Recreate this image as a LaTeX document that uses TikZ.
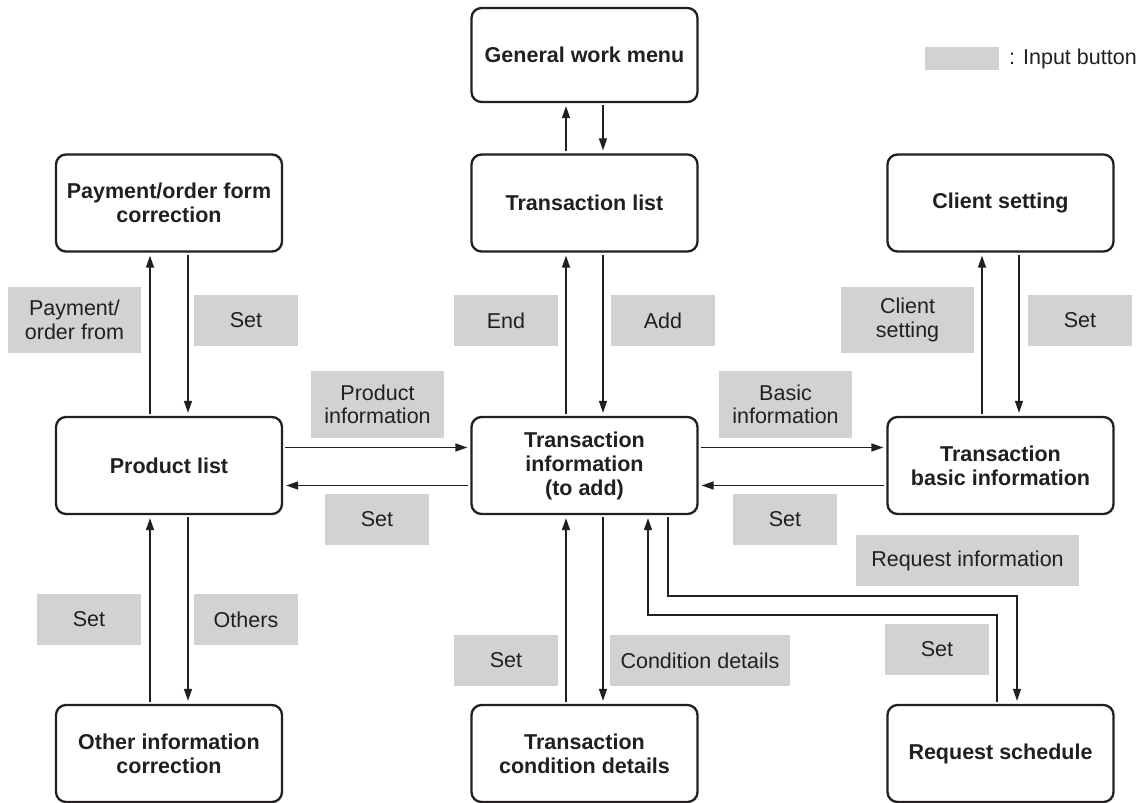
\documentclass[tikz,border=0pt]{standalone}
\usepackage{fontspec}
\setmainfont{Liberation Sans}
\usepackage{xcolor}
\usetikzlibrary{arrows.meta}
\definecolor{ink}{HTML}{231F20}
\definecolor{btngray}{HTML}{D1D2D4}
\tikzset{
  screen/.style={draw=ink, line width=2.3pt, rounded corners=10pt, fill=white,
    minimum width=226pt, minimum height=97pt, align=center, text=ink,
    font=\fontsize{21.5}{24}\selectfont\bfseries},
  btn/.style={fill=btngray, inner sep=0pt, align=center, text=ink,
    font=\fontsize{21.5}{23.5}\selectfont},
  arr/.style={draw=ink, line width=1.4pt, -{Triangle[length=12pt,width=8pt]},
    shorten >=3pt, shorten <=2pt},
}
\begin{document}
\begin{tikzpicture}[x=1pt,y=-1pt]
  \useasboundingbox (0,0) rectangle (1144,803);
  % screens
  \node[screen, minimum height=94pt] (gwm) at (584.5,55) {General work menu};
  \node[screen] (tlist)  at (584.5,203)  {Transaction list};
  \node[screen] (pfc)    at (169,203)    {Payment/order form\\correction};
  \node[screen] (client) at (1000.5,203) {Client setting};
  \node[screen] (plist)  at (169,465.5)  {Product list};
  \node[screen] (tinfo)  at (584.5,465.5) {Transaction\\information\\(to add)};
  \node[screen] (tbasic) at (1000.5,465.5) {Transaction\\basic information};
  \node[screen] (oic)    at (169,753.5)  {Other information\\correction};
  \node[screen] (tcond)  at (584.5,753.5) {Transaction\\condition details};
  \node[screen] (rsched) at (1000.5,753.5) {Request schedule};
  % legend
  \node[btn, minimum width=74pt, minimum height=23pt] (legend) at (962,58.5) {};
  \node[anchor=west, inner sep=0pt, text=ink, font=\fontsize{21.5}{24}\selectfont]
    (legendtxt) at (1009,58.5) {: Input button};
  % input buttons
  \node[btn, minimum width=133pt, minimum height=66pt] (lPay)    at (74.5,320)   {Payment/\\order from};
  \node[btn, minimum width=104pt, minimum height=51pt] (lSetPfc) at (246,320.5)  {Set};
  \node[btn, minimum width=104pt, minimum height=51pt] (lEnd)    at (506,320.5)  {End};
  \node[btn, minimum width=104pt, minimum height=51pt] (lAdd)    at (663,320.5)  {Add};
  \node[btn, minimum width=133pt, minimum height=66pt] (lClient) at (907.5,320)  {Client\\setting};
  \node[btn, minimum width=104pt, minimum height=51pt] (lSetCl)  at (1080,320.5) {Set};
  \node[btn, minimum width=133pt, minimum height=67pt] (lProd)   at (377.5,404.5) {Product\\information};
  \node[btn, minimum width=133pt, minimum height=67pt] (lBasic)  at (785.5,404.5) {Basic\\information};
  \node[btn, minimum width=104pt, minimum height=51pt] (lSetPl)  at (377,519.5)  {Set};
  \node[btn, minimum width=104pt, minimum height=51pt] (lSetTb)  at (785,519.5)  {Set};
  \node[btn, minimum width=223pt, minimum height=51pt] (lReq)    at (967.5,560.5) {Request information};
  \node[btn, minimum width=104pt, minimum height=51pt] (lSetOic) at (89,619.5)   {Set};
  \node[btn, minimum width=104pt, minimum height=51pt] (lOthers) at (246,619.5)  {Others};
  \node[btn, minimum width=104pt, minimum height=51pt] (lSetTc)  at (506,660.5)  {Set};
  \node[btn, minimum width=180pt, minimum height=51pt] (lCond)   at (700,660.5)  {Condition details};
  \node[btn, minimum width=104pt, minimum height=51pt] (lSetRs)  at (937,649.5)  {Set};
  % vertical links
  \draw[arr] ([xshift=-18.5pt]tlist.north) -- ([xshift=-18.5pt]gwm.south);
  \draw[arr] ([xshift=18.5pt]gwm.south) -- ([xshift=18.5pt]tlist.north);
  \draw[arr] ([xshift=-19pt]plist.north) -- ([xshift=-19pt]pfc.south);
  \draw[arr] ([xshift=19pt]pfc.south) -- ([xshift=19pt]plist.north);
  \draw[arr] ([xshift=-18.5pt]tinfo.north) -- ([xshift=-18.5pt]tlist.south);
  \draw[arr] ([xshift=18.5pt]tlist.south) -- ([xshift=18.5pt]tinfo.north);
  \draw[arr] ([xshift=-18.5pt]tbasic.north) -- ([xshift=-18.5pt]client.south);
  \draw[arr] ([xshift=18.5pt]client.south) -- ([xshift=18.5pt]tbasic.north);
  \draw[arr] ([xshift=-19pt]oic.north) -- ([xshift=-19pt]plist.south);
  \draw[arr] ([xshift=19pt]plist.south) -- ([xshift=19pt]oic.north);
  \draw[arr] ([xshift=-18.5pt]tcond.north) -- ([xshift=-18.5pt]tinfo.south);
  \draw[arr] ([xshift=18.5pt]tinfo.south) -- ([xshift=18.5pt]tcond.north);
  % horizontal links
  \draw[arr] ([yshift=18pt]plist.east) -- ([yshift=18pt]tinfo.west);
  \draw[arr] ([yshift=-20pt]tinfo.west) -- ([yshift=-20pt]plist.east);
  \draw[arr] ([yshift=18pt]tinfo.east) -- ([yshift=18pt]tbasic.west);
  \draw[arr] ([yshift=-20pt]tbasic.west) -- ([yshift=-20pt]tinfo.east);
  % request schedule loop
  \draw[arr] ([xshift=83.5pt]tinfo.south) -- ++(0,81) -| ([xshift=16.5pt]rsched.north);
  \draw[arr] ([xshift=-3.5pt]rsched.north) -- ++(0,-89) -| ([xshift=63.5pt]tinfo.south);
\end{tikzpicture}
\end{document}
